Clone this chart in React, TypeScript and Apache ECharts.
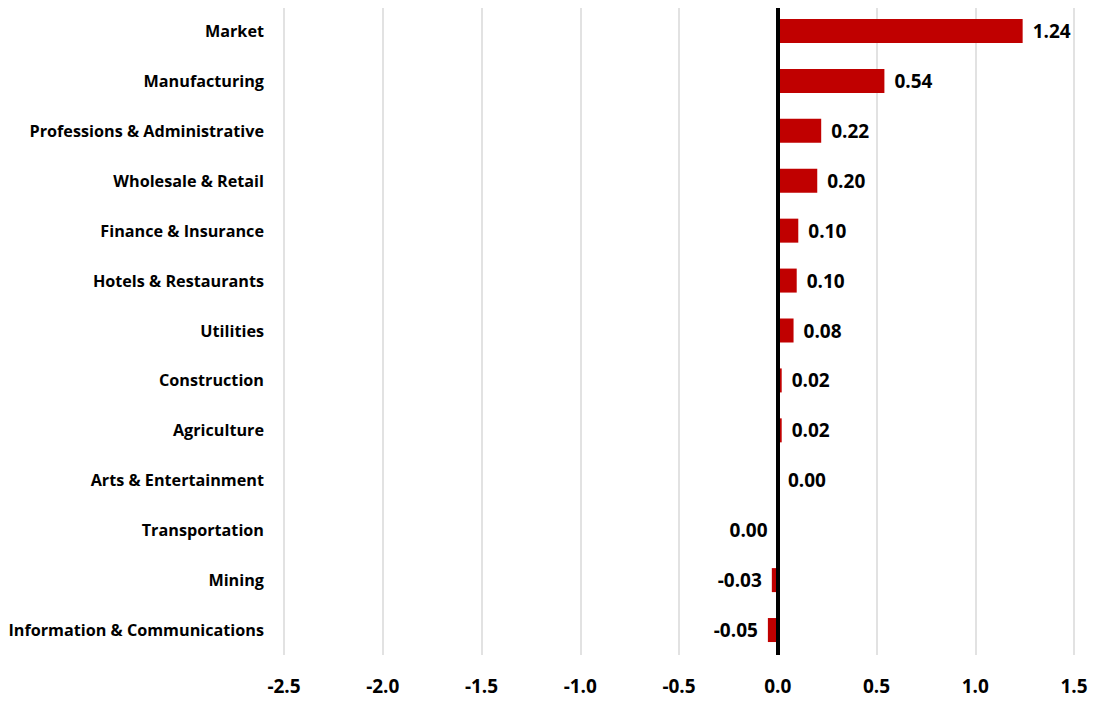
import React, { useEffect, useRef } from "react";
import * as echarts from "echarts";

const categories = [
  "Market",
  "Manufacturing",
  "Professions & Administrative",
  "Wholesale & Retail",
  "Finance & Insurance",
  "Hotels & Restaurants",
  "Utilities",
  "Construction",
  "Agriculture",
  "Arts & Entertainment",
  "Transportation",
  "Mining",
  "Information & Communications",
];

const values = [1.24, 0.54, 0.22, 0.2, 0.104, 0.096, 0.08, 0.02, 0.02, 0.001, -0.001, -0.03, -0.05];

const xTicks = { min: -2.5, max: 1.5, interval: 0.5 };

const FONT = "Open Sans";

export default function App() {
  const ref = useRef<HTMLDivElement>(null);
  useEffect(() => {
    if (!ref.current) return;
    const chart = echarts.init(ref.current, undefined, { renderer: "svg" });
    const cats = [...categories].reverse();
    const vals = [...values].reverse();
    chart.setOption({
      animation: false,
      grid: { left: 284, right: 23, top: 6, bottom: 50, containLabel: false },
      xAxis: {
        type: "value",
        min: xTicks.min,
        max: xTicks.max,
        interval: xTicks.interval,
        axisLine: { show: false },
        axisTick: { show: false },
        splitLine: { show: true, lineStyle: { color: "#d9d9d9", width: 1.5 } },
        axisLabel: {
          formatter: (v: number) => v.toFixed(1),
          fontFamily: FONT,
          fontWeight: "bold",
          fontSize: 19,
          color: "#000",
          margin: 21,
        },
      },
      yAxis: {
        type: "category",
        data: cats,
        axisLine: { show: false },
        axisTick: { show: false },
        splitLine: { show: false },
        axisLabel: {
          fontFamily: FONT,
          fontWeight: "bold",
          fontSize: 16.2,
          color: "#000",
          margin: 20,
        },
      },
      series: [
        {
          type: "bar",
          barWidth: 24,
          itemStyle: { color: "#c00000" },
          data: vals.map((v) => ({
            value: v,
            label: {
              show: true,
              position: v < 0 ? "left" : "right",
              distance: 10,
              formatter: () => (Math.abs(v) < 0.005 ? "0.00" : v.toFixed(2)),
              fontFamily: FONT,
              fontWeight: "bold",
              fontSize: 19,
              color: "#000",
            },
          })),
          markLine: {
            silent: true,
            symbol: ["none", "none"],
            label: { show: false },
            lineStyle: { color: "#000", width: 4, type: "solid" },
            data: [{ xAxis: 0 }],
          },
        },
      ],
    });
    return () => chart.dispose();
  }, []);
  return <div ref={ref} style={{ width: 1097, height: 705, margin: -8 }} />;
}
